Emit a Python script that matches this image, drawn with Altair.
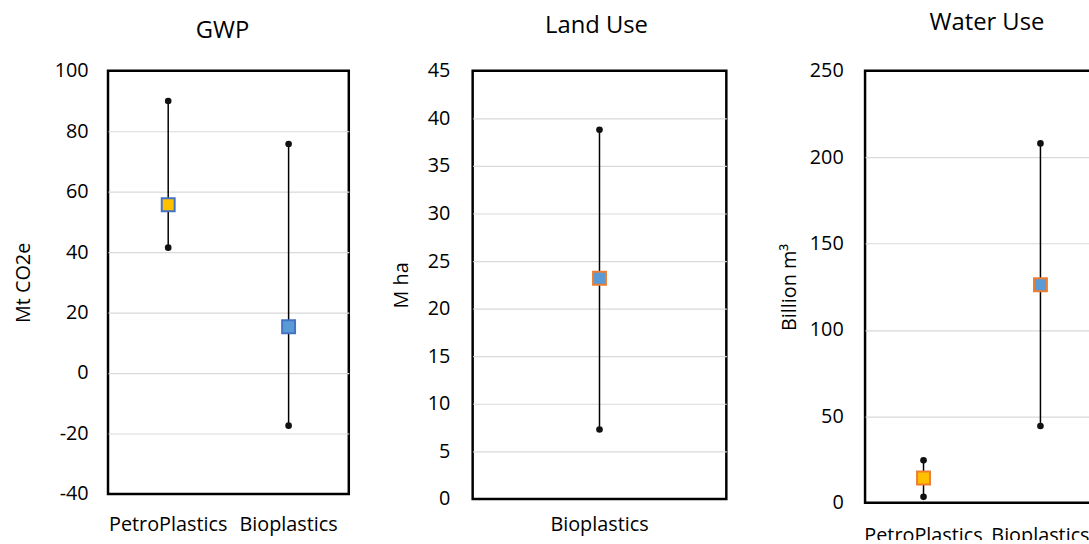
import altair as alt
import pandas as pd

# ---------------- data ----------------
gwp_categories = ["PetroPlastics", "Bioplastics"]
gwp_low = [41.5, -17.4]
gwp_mid = [55.7, 15.3]
gwp_high = [90.0, 75.8]
gwp_ticks = [-40, -20, 0, 20, 40, 60, 80, 100]

land_categories = ["Bioplastics"]
land_low = [7.3]
land_mid = [23.2]
land_high = [38.8]
land_ticks = [0, 5, 10, 15, 20, 25, 30, 35, 40, 45]

water_categories = ["PetroPlastics", "Bioplastics"]
water_low = [3.5, 44.5]
water_mid = [14.4, 126.2]
water_high = [24.6, 208.0]
water_ticks = [0, 50, 100, 150, 200, 250]

# ---------------- styles ----------------
FONT = "Open Sans"
YELLOW = "#FFC000"
BLUE_FILL = "#5B9BD5"
BLUE_EDGE = "#4472C4"
ORANGE_EDGE = "#ED7D31"


def panel(title, cats, low, mid, high, ticks, ytitle, fills, edge,
          width, height, title_offset, title_dx, xlab_pad, ylab_pad, ytitle_pad):
    df = pd.DataFrame({"category": cats, "low": low, "mid": mid, "high": high})
    x = alt.X("category:N", sort=cats, title=None,
              axis=alt.Axis(labelAngle=0, ticks=False, domain=False, grid=False,
                            labelPadding=xlab_pad, labelFont=FONT, labelFontSize=20,
                            labelColor="#000000", labelOverlap=False, labelLimit=0))
    lo, hi = ticks[0], ticks[-1]
    yscale = alt.Scale(domain=[lo, hi], nice=False, zero=False)
    yaxis = alt.Axis(values=ticks, grid=True, gridColor="#D9D9D9", gridWidth=1.2,
                     gridOpacity={"condition": {"test": f"datum.value <= {lo} || datum.value >= {hi}",
                                                "value": 0}, "value": 1},
                     ticks=False, domain=False, labelPadding=ylab_pad,
                     labelExpr="replace(datum.label, '\u2212', '-')",
                     labelFont=FONT, labelFontSize=20, labelColor="#000000",
                     title=ytitle, titleFont=FONT, titleFontSize=20,
                     titleFontWeight="normal", titleColor="#000000",
                     titlePadding=ytitle_pad)
    base = alt.Chart(df)
    rule = base.mark_rule(color="black", strokeWidth=1.5).encode(
        x=x, y=alt.Y("low:Q", scale=yscale, axis=yaxis), y2="high:Q")
    lows = base.mark_circle(size=45, color="#111111", opacity=1).encode(
        x=x, y=alt.Y("low:Q", scale=yscale, axis=yaxis))
    highs = base.mark_circle(size=45, color="#111111", opacity=1).encode(
        x=x, y=alt.Y("high:Q", scale=yscale, axis=yaxis))
    squares = base.mark_square(size=170, strokeWidth=2, stroke=edge, opacity=1).encode(
        x=x, y=alt.Y("mid:Q", scale=yscale, axis=yaxis),
        fill=alt.Fill("category:N", scale=alt.Scale(domain=cats, range=fills), legend=None))
    return alt.layer(rule, lows, highs, squares).properties(
        width=width, height=height,
        title=alt.TitleParams(text=title, font=FONT, fontSize=24, fontWeight="normal",
                              color="#000000", anchor="middle", frame="group",
                              offset=title_offset, dx=title_dx))


gwp = panel("GWP", gwp_categories, gwp_low, gwp_mid, gwp_high, gwp_ticks, "Mt CO2e",
            [YELLOW, BLUE_FILL], BLUE_EDGE, 243, 427, 18, -6, 21, 20, 21)
land = panel("Land Use", land_categories, land_low, land_mid, land_high, land_ticks, "M ha",
             [BLUE_FILL], ORANGE_EDGE, 256, 432, 23, -3, 16, 23, 16)
water = panel("Water Use", water_categories, water_low, water_mid, water_high, water_ticks,
              "Billion m³", [YELLOW, BLUE_FILL], ORANGE_EDGE, 236, 436, 26, 5, 23, 22, 10)

chart = alt.hconcat(alt.hconcat(gwp, land, spacing=39), water, spacing=50).properties(
    padding={"left": 12, "top": 7, "right": -12, "bottom": -10}
).configure_view(stroke="black", strokeWidth=2.5)

chart.save("out.html", embed_options={"renderer": "svg", "actions": False})
